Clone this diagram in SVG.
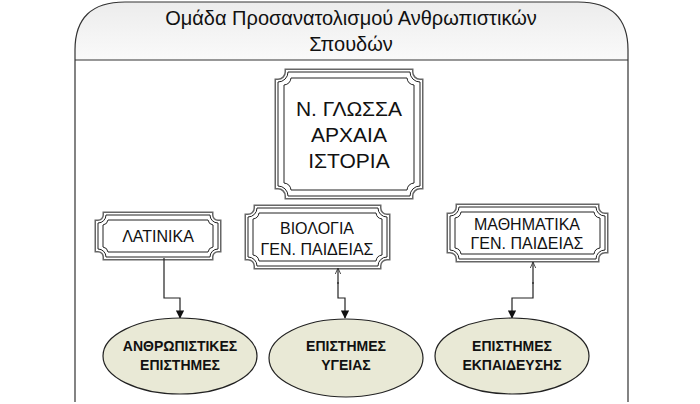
<svg xmlns="http://www.w3.org/2000/svg" width="700" height="404" viewBox="0 0 700 404">
<defs>
<linearGradient id="hg" x1="0" y1="0" x2="0" y2="1"><stop offset="0" stop-color="#ececec"/><stop offset="1" stop-color="#fafafa"/></linearGradient>
<marker id="ar" viewBox="0 0 10 10" refX="9" refY="5" markerWidth="7" markerHeight="7" orient="auto"><path d="M0,0 L10,5 L0,10 z" fill="#111"/></marker>
<marker id="ao" viewBox="0 0 10 10" refX="9" refY="5" markerWidth="6" markerHeight="6" orient="auto"><path d="M0,1 L9,5 L0,9" fill="none" stroke="#333" stroke-width="1.2"/></marker>
</defs>
<style>
.o{fill:none;stroke:#666;stroke-width:7}
.w{fill:#fff;stroke:#fff;stroke-width:4}
.l{fill:none;stroke:#222;stroke-width:1}
.t{font-family:"Liberation Sans",Arial,sans-serif;fill:#111;text-anchor:middle}
.e{fill:#e9e9d6;stroke:#222;stroke-width:1.2}
.c{fill:none;stroke:#222;stroke-width:1.2}
</style>
<rect width="700" height="404" fill="#fff"/>
<g id="frame">
<path d="M75,60 V50 Q75,2 125,2 H578 Q628,2 628,50 V60 Z" fill="url(#hg)"/>
<path d="M75,402 V50 Q75,2 125,2 H578 Q628,2 628,50 V402" fill="none" stroke="#333" stroke-width="1.2"/>
<line x1="75" y1="60" x2="628" y2="60" stroke="#333" stroke-width="1.2"/>
<text class="t" x="351" y="25" font-size="20">Ομάδα Προσανατολισμού Ανθρωπιστικών</text>
<text class="t" x="351" y="51" font-size="20">Σπουδών</text>
</g>
<g id="box-glossa">
<path class="o" d="M288,72 H410 A10,10 0 0 0 420,82 V186 A10,10 0 0 0 410,196 H288 A10,10 0 0 0 278,186 V82 A10,10 0 0 0 288,72 Z"/>
<path class="w" d="M288,72 H410 A10,10 0 0 0 420,82 V186 A10,10 0 0 0 410,196 H288 A10,10 0 0 0 278,186 V82 A10,10 0 0 0 288,72 Z"/>
<path class="l" d="M288,72 H410 A10,10 0 0 0 420,82 V186 A10,10 0 0 0 410,196 H288 A10,10 0 0 0 278,186 V82 A10,10 0 0 0 288,72 Z"/>
<path class="l" d="M291,78 H407 A8,8 0 0 0 414,85 V183 A8,8 0 0 0 407,190 H291 A8,8 0 0 0 284,183 V85 A8,8 0 0 0 291,78 Z"/>
<text class="t" x="349" y="116" font-size="21">Ν. ΓΛΩΣΣΑ</text>
<text class="t" x="349" y="142" font-size="21">ΑΡΧΑΙΑ</text>
<text class="t" x="349" y="168" font-size="21">ΙΣΤΟΡΙΑ</text>
</g>
<g id="box-latinika">
<path class="o" d="M106,215 H210 A8,8 0 0 0 218,223 V249 A8,8 0 0 0 210,257 H106 A8,8 0 0 0 98,249 V223 A8,8 0 0 0 106,215 Z"/>
<path class="w" d="M106,215 H210 A8,8 0 0 0 218,223 V249 A8,8 0 0 0 210,257 H106 A8,8 0 0 0 98,249 V223 A8,8 0 0 0 106,215 Z"/>
<path class="l" d="M106,215 H210 A8,8 0 0 0 218,223 V249 A8,8 0 0 0 210,257 H106 A8,8 0 0 0 98,249 V223 A8,8 0 0 0 106,215 Z"/>
<path class="l" d="M108,220 H208 A6,6 0 0 0 213,225 V247 A6,6 0 0 0 208,252 H108 A6,6 0 0 0 103,247 V225 A6,6 0 0 0 108,220 Z"/>
<text class="t" x="158" y="242" font-size="16">ΛΑΤΙΝΙΚΑ</text>
</g>
<g id="box-biologia">
<path class="o" d="M257,208 H378 A9,9 0 0 0 387,217 V257 A9,9 0 0 0 378,266 H257 A9,9 0 0 0 248,257 V217 A9,9 0 0 0 257,208 Z"/>
<path class="w" d="M257,208 H378 A9,9 0 0 0 387,217 V257 A9,9 0 0 0 378,266 H257 A9,9 0 0 0 248,257 V217 A9,9 0 0 0 257,208 Z"/>
<path class="l" d="M257,208 H378 A9,9 0 0 0 387,217 V257 A9,9 0 0 0 378,266 H257 A9,9 0 0 0 248,257 V217 A9,9 0 0 0 257,208 Z"/>
<path class="l" d="M259,213 H376 A7,7 0 0 0 382,219 V255 A7,7 0 0 0 376,261 H259 A7,7 0 0 0 253,255 V219 A7,7 0 0 0 259,213 Z"/>
<text class="t" x="317" y="234" font-size="16">ΒΙΟΛΟΓΙΑ</text>
<text class="t" x="317" y="255" font-size="16">ΓΕΝ. ΠΑΙΔΕΙΑΣ</text>
</g>
<g id="box-mathimatika">
<path class="o" d="M459,207 H596 A9,9 0 0 0 605,216 V250 A9,9 0 0 0 596,259 H459 A9,9 0 0 0 450,250 V216 A9,9 0 0 0 459,207 Z"/>
<path class="w" d="M459,207 H596 A9,9 0 0 0 605,216 V250 A9,9 0 0 0 596,259 H459 A9,9 0 0 0 450,250 V216 A9,9 0 0 0 459,207 Z"/>
<path class="l" d="M459,207 H596 A9,9 0 0 0 605,216 V250 A9,9 0 0 0 596,259 H459 A9,9 0 0 0 450,250 V216 A9,9 0 0 0 459,207 Z"/>
<path class="l" d="M461,212 H594 A7,7 0 0 0 600,218 V248 A7,7 0 0 0 594,254 H461 A7,7 0 0 0 455,248 V218 A7,7 0 0 0 461,212 Z"/>
<text class="t" x="527" y="230" font-size="16">ΜΑΘΗΜΑΤΙΚΑ</text>
<text class="t" x="527" y="249" font-size="16">ΓΕΝ. ΠΑΙΔΕΙΑΣ</text>
</g>
<g id="connectors">
<path class="c" d="M164,258 V298 H180 V318" marker-end="url(#ar)"/>
<path class="c" d="M338,282 V298 H345 V318" marker-end="url(#ar)"/>
<path class="c" d="M338,284 V268" marker-end="url(#ao)"/>
<path class="c" d="M533,282 V298 H512 V318" marker-end="url(#ar)"/>
<path class="c" d="M533,284 V262" marker-end="url(#ao)"/>
</g>
<g id="ell-anthropistikes">
<ellipse class="e" cx="180" cy="356" rx="77" ry="38"/>
<text class="t" x="180" y="351" font-size="14" font-weight="bold">ΑΝΘΡΩΠΙΣΤΙΚΕΣ</text>
<text class="t" x="180" y="370" font-size="14" font-weight="bold">ΕΠΙΣΤΗΜΕΣ</text>
</g>
<g id="ell-ygeias">
<ellipse class="e" cx="346" cy="358" rx="77" ry="39"/>
<text class="t" x="346" y="351" font-size="14" font-weight="bold">ΕΠΙΣΤΗΜΕΣ</text>
<text class="t" x="346" y="370" font-size="14" font-weight="bold">ΥΓΕΙΑΣ</text>
</g>
<g id="ell-ekpaideysis">
<ellipse class="e" cx="512" cy="356" rx="77" ry="38"/>
<text class="t" x="512" y="351" font-size="14" font-weight="bold">ΕΠΙΣΤΗΜΕΣ</text>
<text class="t" x="512" y="370" font-size="14" font-weight="bold">ΕΚΠΑΙΔΕΥΣΗΣ</text>
</g>
</svg>
